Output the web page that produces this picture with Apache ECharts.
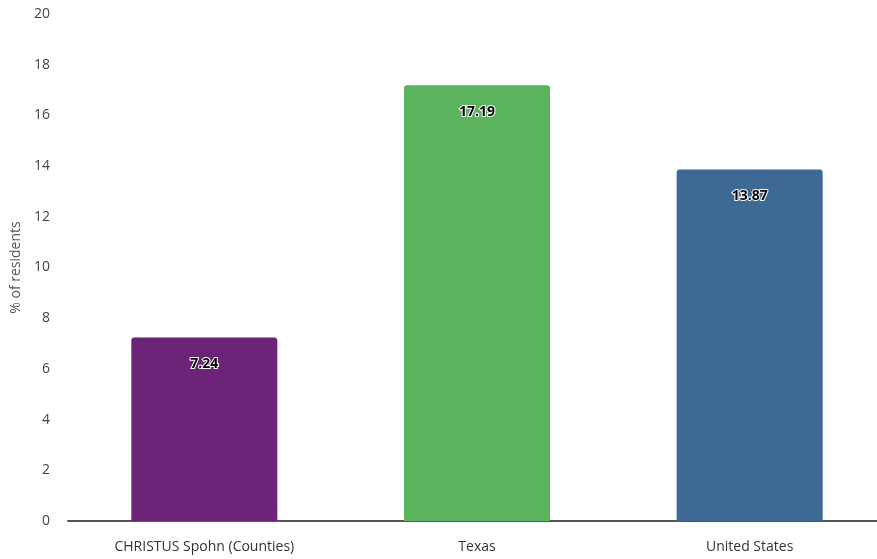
<!DOCTYPE html>
<html><head><meta charset="utf-8">
<script src="https://cdn.jsdelivr.net/npm/echarts@6/dist/echarts.min.js"></script>
<style>html,body{margin:0;padding:0;background:#fff}#c{width:877px;height:559px}</style>
</head><body><div id="c"></div>
<script>
const categories = ["CHRISTUS Spohn (Counties)", "Texas", "United States"];
const values = [7.24, 17.19, 13.87];
const barColors = ["#6B2477", "#5CB35E", "#3E6994"];
const yTicks = [0, 2, 4, 6, 8, 10, 12, 14, 16, 18, 20];

const chart = echarts.init(document.getElementById('c'), null, {renderer: 'canvas'});
chart.setOption({
  animation: false,
  grid: {left: 68, width: 818, top: 14, bottom: 38, containLabel: false, outerBoundsMode: 'none'},
  xAxis: {
    type: 'category', data: categories,
    axisLine: {lineStyle: {color: '#555', width: 2}},
    axisTick: {show: false},
    axisLabel: {color: '#333', fontSize: 14, fontFamily: 'Open Sans', margin: 19}
  },
  yAxis: {
    type: 'value', min: yTicks[0], max: yTicks[yTicks.length - 1], interval: 2,
    name: '% of residents', nameLocation: 'middle', nameGap: 45,
    nameTextStyle: {color: '#555', fontSize: 14, fontFamily: 'Open Sans'},
    splitLine: {show: false},
    axisLine: {show: false}, axisTick: {show: false},
    axisLabel: {color: '#444', fontSize: 14, fontFamily: 'Open Sans', margin: 18}
  },
  series: [{
    type: 'bar', barWidth: 146,
    data: values.map((v, i) => ({value: v, itemStyle: {color: barColors[i], borderRadius: [3, 3, 0, 0]}})),
    label: {
      show: true, position: 'insideTop', distance: 20,
      color: '#000', fontWeight: 'bold', fontSize: 14, fontFamily: 'Open Sans',
      textBorderColor: '#fff', textBorderWidth: 2
    }
  }]
});
</script></body></html>
